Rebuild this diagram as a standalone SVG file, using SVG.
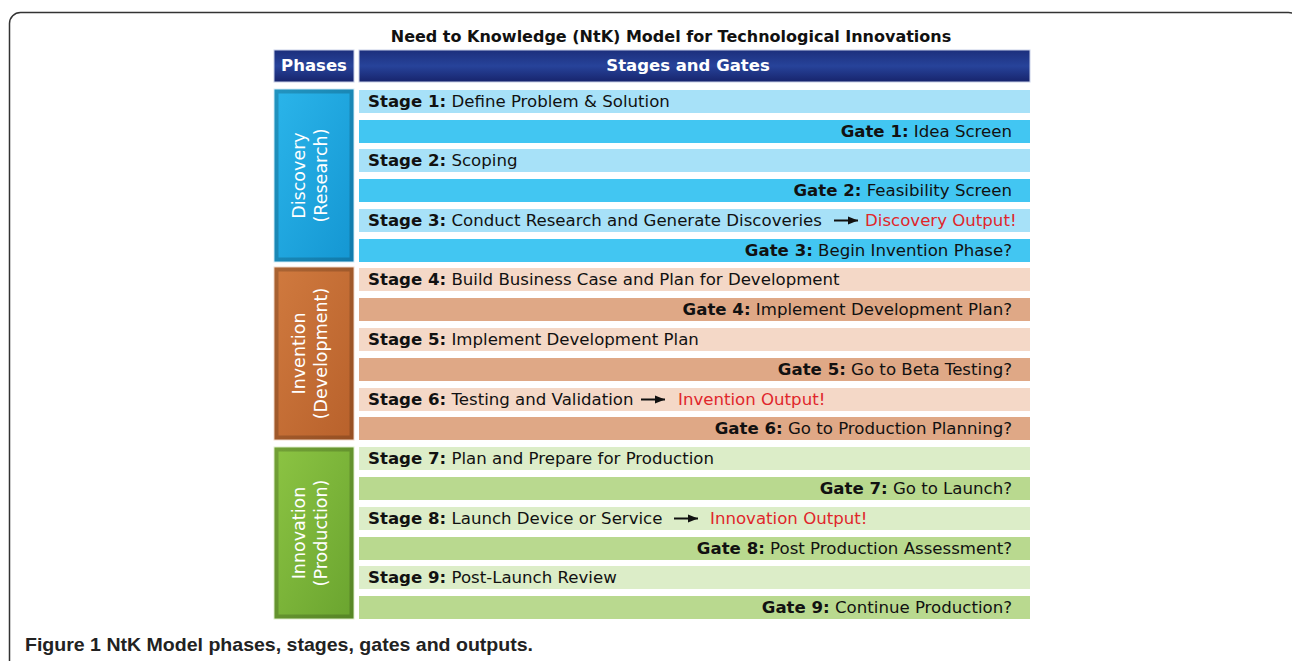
<svg xmlns="http://www.w3.org/2000/svg" width="1292" height="661" viewBox="0 0 1292 661">
<defs>
<style>
text{font-family:"DejaVu Sans","Liberation Sans",Arial,sans-serif;}
.t{font-size:16.6px;fill:#111;}
.b{font-weight:700;}
.hd{font-size:16.5px;font-weight:700;fill:#fff;text-anchor:middle;}
.ph{font-size:17.5px;fill:#fff;text-anchor:middle;}
.g{text-anchor:end;}
.red{fill:#e0262b;}
.s1{fill:#a7e1f8;} .g1{fill:#42c6f2;}
.s2{fill:#f4d8c7;} .g2{fill:#dfa886;}
.s3{fill:#dcedc8;} .g3{fill:#b9d98f;}
.bev{fill:none;stroke:#000;stroke-opacity:0.18;stroke-width:4;}
</style>
<linearGradient id="navy" x1="0" y1="0" x2="0" y2="1">
<stop offset="0" stop-color="#1c2f7c"/><stop offset="0.5" stop-color="#27439a"/><stop offset="1" stop-color="#17246c"/>
</linearGradient>
<linearGradient id="blue" x1="0" y1="0" x2="1" y2="1">
<stop offset="0" stop-color="#2bb5ea"/><stop offset="1" stop-color="#1496d2"/>
</linearGradient>
<linearGradient id="orange" x1="0" y1="0" x2="1" y2="1">
<stop offset="0" stop-color="#d07a3f"/><stop offset="1" stop-color="#b8612b"/>
</linearGradient>
<linearGradient id="green" x1="0" y1="0" x2="1" y2="1">
<stop offset="0" stop-color="#8cc443"/><stop offset="1" stop-color="#6aa42f"/>
</linearGradient>
<marker id="ah" viewBox="0 0 10 10" refX="10" refY="5" markerWidth="10" markerHeight="10" markerUnits="userSpaceOnUse" orient="auto">
<path d="M0,1 L10,5 L0,9 Z" fill="#111"/>
</marker>
</defs>

<rect x="9.5" y="12.5" width="1290" height="700" rx="11" fill="#fff" stroke="#333" stroke-width="1.5"/>

<text x="671" y="42" style="font-size:16px;font-weight:700;fill:#111;text-anchor:middle">Need to Knowledge (NtK) Model for Technological Innovations</text>

<g id="header">
<rect x="274" y="50" width="80" height="32" fill="url(#navy)" stroke="#c8d0e8" stroke-width="1"/>
<text class="hd" x="314" y="71">Phases</text>
<rect x="359" y="50" width="671" height="32" fill="url(#navy)" stroke="#c8d0e8" stroke-width="1"/>
<text class="hd" x="688" y="71">Stages and Gates</text>
</g>

<g id="phase-discovery">
<rect x="274" y="89" width="80" height="173" fill="url(#blue)" stroke="#d8eef8" stroke-width="1"/>
<rect class="bev" x="276.5" y="91.5" width="75" height="168"/>
<g transform="translate(311,175.5) rotate(-90)">
<text class="ph" x="0" y="-6">Discovery</text>
<text class="ph" x="0" y="16">(Research)</text>
</g>
</g>
<g id="phase-invention">
<rect x="274" y="267" width="80" height="173" fill="url(#orange)" stroke="#f2dccd" stroke-width="1"/>
<rect class="bev" x="276.5" y="269.5" width="75" height="168"/>
<g transform="translate(311,353.5) rotate(-90)">
<text class="ph" x="0" y="-6">Invention</text>
<text class="ph" x="0" y="16">(Development)</text>
</g>
</g>
<g id="phase-innovation">
<rect x="274" y="447" width="80" height="172" fill="url(#green)" stroke="#e2f0d0" stroke-width="1"/>
<rect class="bev" x="276.5" y="449.5" width="75" height="167"/>
<g transform="translate(311,533) rotate(-90)">
<text class="ph" x="0" y="-6">Innovation</text>
<text class="ph" x="0" y="16">(Production)</text>
</g>
</g>

<g id="stage1"><rect class="s1" x="359" y="90" width="671" height="23"/><text class="t" x="368" y="107"><tspan class="b">Stage 1:</tspan> Define Problem &amp; Solution</text></g>
<g id="gate1"><rect class="g1" x="359" y="120" width="671" height="23"/><text class="t g" x="1012" y="137"><tspan class="b">Gate 1:</tspan> Idea Screen</text></g>
<g id="stage2"><rect class="s1" x="359" y="149" width="671" height="23"/><text class="t" x="368" y="166"><tspan class="b">Stage 2:</tspan> Scoping</text></g>
<g id="gate2"><rect class="g1" x="359" y="179" width="671" height="23"/><text class="t g" x="1012" y="196"><tspan class="b">Gate 2:</tspan> Feasibility Screen</text></g>
<g id="stage3"><rect class="s1" x="359" y="209" width="671" height="23"/><text class="t" x="368" y="226"><tspan class="b">Stage 3:</tspan> Conduct Research and Generate Discoveries</text><text class="t red" x="865" y="226">Discovery Output!</text></g>
<g id="gate3"><rect class="g1" x="359" y="239" width="671" height="23"/><text class="t g" x="1012" y="256"><tspan class="b">Gate 3:</tspan> Begin Invention Phase?</text></g>

<g id="stage4"><rect class="s2" x="359" y="268" width="671" height="23"/><text class="t" x="368" y="285"><tspan class="b">Stage 4:</tspan> Build Business Case and Plan for Development</text></g>
<g id="gate4"><rect class="g2" x="359" y="298" width="671" height="23"/><text class="t g" x="1012" y="315"><tspan class="b">Gate 4:</tspan> Implement Development Plan?</text></g>
<g id="stage5"><rect class="s2" x="359" y="328" width="671" height="23"/><text class="t" x="368" y="345"><tspan class="b">Stage 5:</tspan> Implement Development Plan</text></g>
<g id="gate5"><rect class="g2" x="359" y="358" width="671" height="23"/><text class="t g" x="1012" y="375"><tspan class="b">Gate 5:</tspan> Go to Beta Testing?</text></g>
<g id="stage6"><rect class="s2" x="359" y="388" width="671" height="23"/><text class="t" x="368" y="405"><tspan class="b">Stage 6:</tspan> Testing and Validation</text><text class="t red" x="678" y="405">Invention Output!</text></g>
<g id="gate6"><rect class="g2" x="359" y="417" width="671" height="23"/><text class="t g" x="1012" y="434"><tspan class="b">Gate 6:</tspan> Go to Production Planning?</text></g>

<g id="stage7"><rect class="s3" x="359" y="447" width="671" height="23"/><text class="t" x="368" y="464"><tspan class="b">Stage 7:</tspan> Plan and Prepare for Production</text></g>
<g id="gate7"><rect class="g3" x="359" y="477" width="671" height="23"/><text class="t g" x="1012" y="494"><tspan class="b">Gate 7:</tspan> Go to Launch?</text></g>
<g id="stage8"><rect class="s3" x="359" y="507" width="671" height="23"/><text class="t" x="368" y="524"><tspan class="b">Stage 8:</tspan> Launch Device or Service</text><text class="t red" x="710" y="524">Innovation Output!</text></g>
<g id="gate8"><rect class="g3" x="359" y="537" width="671" height="23"/><text class="t g" x="1012" y="554"><tspan class="b">Gate 8:</tspan> Post Production Assessment?</text></g>
<g id="stage9"><rect class="s3" x="359" y="566" width="671" height="23"/><text class="t" x="368" y="583"><tspan class="b">Stage 9:</tspan> Post-Launch Review</text></g>
<g id="gate9"><rect class="g3" x="359" y="596" width="671" height="23"/><text class="t g" x="1012" y="613"><tspan class="b">Gate 9:</tspan> Continue Production?</text></g>

<g id="connectors" stroke="#111" stroke-width="2" fill="none">
<line x1="834" y1="220.5" x2="858" y2="220.5" marker-end="url(#ah)"/>
<line x1="641" y1="399.5" x2="665" y2="399.5" marker-end="url(#ah)"/>
<line x1="674" y1="518.5" x2="698" y2="518.5" marker-end="url(#ah)"/>
</g>

<text x="25" y="651" textLength="508" lengthAdjust="spacingAndGlyphs" style="font-family:'Liberation Sans',Arial,sans-serif;font-size:19px;font-weight:700;fill:#222">Figure 1 NtK Model phases, stages, gates and outputs.</text>
</svg>
